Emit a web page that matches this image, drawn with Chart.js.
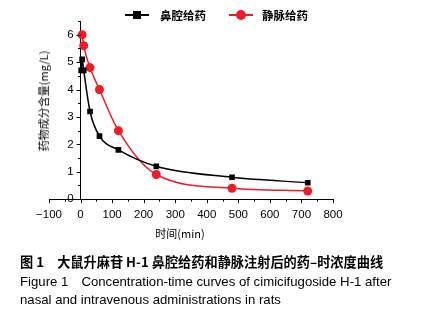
<!DOCTYPE html>
<html>
<head>
<meta charset="utf-8">
<script src="https://cdn.jsdelivr.net/npm/chart.js@4/dist/chart.umd.min.js"></script>
<style>
  body { margin: 0; background: #fff; width: 431px; height: 315px; position: relative; overflow: hidden;
         font-family: "Liberation Sans", Arial, sans-serif; }
  #wrap { position: absolute; left: 0; top: 0; width: 431px; height: 240px; }
  .lbl { position: absolute; color: #000; white-space: nowrap; }
  .cn { font-family: "Noto Sans CJK SC", sans-serif; }
  #ytitle { left: 43px; top: 101px; font-size: 11px; transform: translate(-50%, -50%) rotate(-90deg); }
  #xtitle { left: 180px; top: 233px; font-size: 11px; transform: translate(-50%, -50%); }
  .legline { position: absolute; height: 2px; width: 24px; }
  .leg { font-size: 11.5px; font-weight: bold; top: 7px; }
  .cap { left: 20px; font-size: 13.2px; }
</style>
</head>
<body>
<div id="wrap"><canvas id="myChart" width="431" height="240"></canvas></div>

<div class="legline" style="left:125px; top:14px; background:#000;"></div>
<div style="position:absolute; left:133px; top:11px; width:8px; height:8px; background:#000;"></div>
<div class="lbl leg cn" style="left:160px;">鼻腔给药</div>
<div class="legline" style="left:229px; top:14px; background:#ee1c24;"></div>
<div style="position:absolute; left:236px; top:10px; width:10px; height:10px; border-radius:50%; background:#ee1c24;"></div>
<div class="lbl leg cn" style="left:262px;">静脉给药</div>

<div class="lbl cn" id="ytitle">药物成分含量(mg/L)</div>
<div class="lbl cn" id="xtitle">时间(min)</div>

<div class="lbl cap cn" style="top:252px; font-weight:bold;">图 1　大鼠升麻苷 H-1 鼻腔给药和静脉注射后的药–时浓度曲线</div>
<div class="lbl cap" style="top:273px;">Figure 1　Concentration-time curves of cimicifugoside H-1 after</div>
<div class="lbl cap" style="top:292px;">nasal and intravenous administrations in rats</div>

<script>
// time points (min) and concentrations (mg/L)
var nasalTime = [2, 5, 10, 30, 60, 120, 240, 480, 720];
var nasalConc = [4.7, 5.1, 4.7, 3.2, 2.3, 1.8, 1.2, 0.8, 0.6];
var ivTime = [5, 10, 30, 60, 120, 240, 480, 720];
var ivConc = [6.0, 5.6, 4.8, 4.0, 2.5, 0.9, 0.4, 0.3];
var xTicks = [-100, 0, 100, 200, 300, 400, 500, 600, 700, 800];
var yTicks = [0, 1, 2, 3, 4, 5, 6];

function toPoints(xs, ys) {
  return xs.map(function (x, i) {
    return { x: x, y: ys[i] };
  });
}

var tickFont = { family: "Liberation Sans", size: 11.5 };

// y axis sits at x = 0: its labels and all tick marks (major + minor) drawn here
var axisMarks = {
  id: "axisMarks",
  afterDraw: function (chart) {
    var c = chart.ctx;
    var xs = chart.scales.x;
    var ys = chart.scales.y;
    var x0 = xs.getPixelForValue(0);
    var yb = ys.getPixelForValue(0);
    c.save();
    c.strokeStyle = "#000";
    c.lineWidth = 1;
    c.beginPath();
    for (var v = xTicks[0]; v <= xTicks[xTicks.length - 1]; v += 50) {
      var px = Math.round(xs.getPixelForValue(v)) + 0.5;
      c.moveTo(px, yb);
      c.lineTo(px, yb + (v % 100 === 0 ? 4 : 2.5));
    }
    for (var w = 0; w <= 6.5; w += 0.5) {
      var py = Math.round(ys.getPixelForValue(w)) + 0.5;
      c.moveTo(x0, py);
      c.lineTo(x0 - (w % 1 === 0 ? 4 : 2.5), py);
    }
    c.stroke();
    c.fillStyle = "#000";
    c.font = "11.5px 'Liberation Sans'";
    c.textAlign = "right";
    c.textBaseline = "middle";
    yTicks.forEach(function (t) {
      c.fillText(String(t), x0 - 7, ys.getPixelForValue(t));
    });
    c.restore();
  },
};

var ctx = document.getElementById("myChart").getContext("2d");
var myChart = new Chart(ctx, {
  type: "line",
  data: {
    datasets: [
      {
        label: "鼻腔给药",
        data: toPoints(nasalTime, nasalConc),
        borderColor: "#000",
        backgroundColor: "#000",
        borderWidth: 1.5,
        pointStyle: "rect",
        pointRadius: 4,
        pointBorderWidth: 0,
        tension: 0.4,
        cubicInterpolationMode: "monotone",
      },
      {
        label: "静脉给药",
        data: toPoints(ivTime, ivConc),
        borderColor: "#ee1c24",
        backgroundColor: "#ee1c24",
        borderWidth: 1.5,
        pointStyle: "circle",
        pointRadius: 4.5,
        pointBorderWidth: 0,
        tension: 0.4,
        cubicInterpolationMode: "monotone",
      },
    ],
  },
  options: {
    responsive: false,
    animation: false,
    layout: { padding: { left: 49, right: 98, top: 21, bottom: 13 } },
    plugins: { legend: { display: false }, tooltip: { enabled: false } },
    scales: {
      x: {
        type: "linear",
        min: -100,
        max: 800,
        border: { color: "#000", width: 1 },
        grid: { drawOnChartArea: false, tickLength: 4, tickColor: "transparent" },
        afterBuildTicks: function (s) {
          s.ticks = xTicks.map(function (v) { return { value: v }; });
        },
        ticks: {
          color: "#000",
          font: tickFont,
          padding: 5,
          maxRotation: 0,
          autoSkip: false,
          callback: function (v) {
            return String(v).replace("-", "\u2212");
          },
        },
      },
      y: {
        position: { x: 0 },
        min: 0,
        max: 6.5,
        border: { color: "#000", width: 1 },
        grid: { drawOnChartArea: false, drawTicks: false },
        afterBuildTicks: function (s) {
          s.ticks = yTicks.map(function (v) { return { value: v }; });
        },
        ticks: { display: false },
      },
    },
  },
  plugins: [axisMarks],
});
</script>
</body>
</html>
